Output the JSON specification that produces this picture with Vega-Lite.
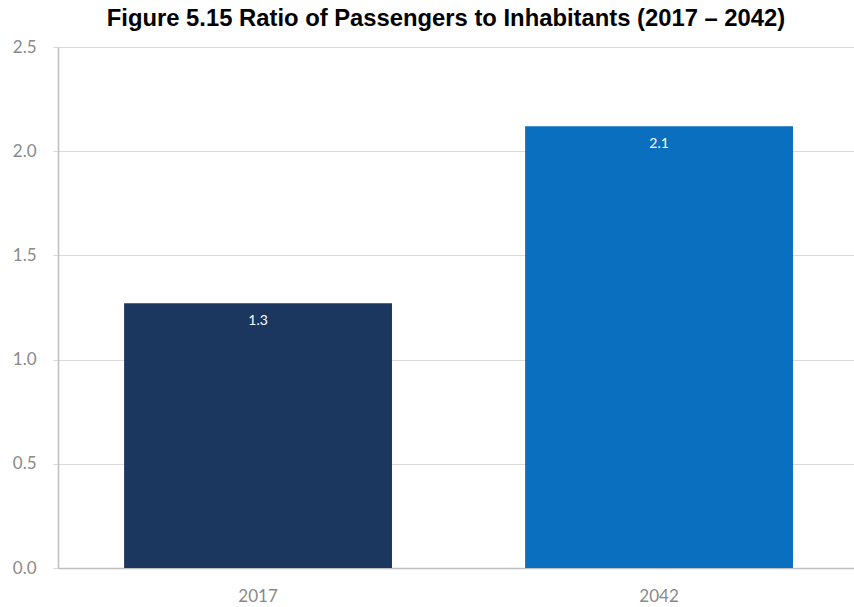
{
  "$schema": "https://vega.github.io/schema/vega-lite/v6.json",
  "autosize": "none",
  "width": 796,
  "height": 521,
  "padding": {"left": 58, "top": 47, "right": 0, "bottom": 39},
  "background": "white",
  "title": {
    "text": "Figure 5.15 Ratio of Passengers to Inhabitants (2017 – 2042)",
    "font": "Liberation Sans",
    "fontSize": 23.8,
    "fontWeight": "bold",
    "color": "#000000",
    "anchor": "middle",
    "dx": -10,
    "baseline": "alphabetic",
    "offset": 13,
    "dy": 25
  },
  "data": {
    "values": [
      {"year": "2017", "ratio": 1.27, "label": "1.3"},
      {"year": "2042", "ratio": 2.12, "label": "2.1"}
    ]
  },
  "config": {
    "view": {"stroke": null},
    "axis": {"labelFont": "Lato", "labelFontSize": 17, "labelColor": "#8a8a8a"}
  },
  "encoding": {
    "x": {
      "field": "year",
      "type": "nominal",
      "sort": null,
      "scale": {"paddingInner": 0.332, "paddingOuter": 0.1585, "align": 0.52},
      "axis": {"title": null, "labelAngle": 0, "ticks": false, "labelPadding": 20, "domainColor": "#bfbfbf", "domainWidth": 1.5}
    },
    "y": {
      "field": "ratio",
      "type": "quantitative",
      "scale": {"domain": [0, 2.5], "nice": false},
      "axis": {"title": null, "values": [0, 0.5, 1, 1.5, 2, 2.5], "format": ".1f", "gridColor": "#d9d9d9", "tickColor": "#d9d9d9", "tickSize": 5, "labelPadding": 17, "domainColor": "#bfbfbf", "domainWidth": 1.5}
    }
  },
  "layer": [
    {
      "mark": {"type": "bar"},
      "encoding": {
        "color": {
          "field": "year",
          "type": "nominal",
          "scale": {"domain": ["2017", "2042"], "range": ["#1b365f", "#0a6fbe"]},
          "legend": null
        }
      }
    },
    {
      "mark": {"type": "text", "baseline": "middle", "dy": 18, "color": "white", "font": "Lato", "fontSize": 14},
      "encoding": {"text": {"field": "label"}}
    }
  ]
}
